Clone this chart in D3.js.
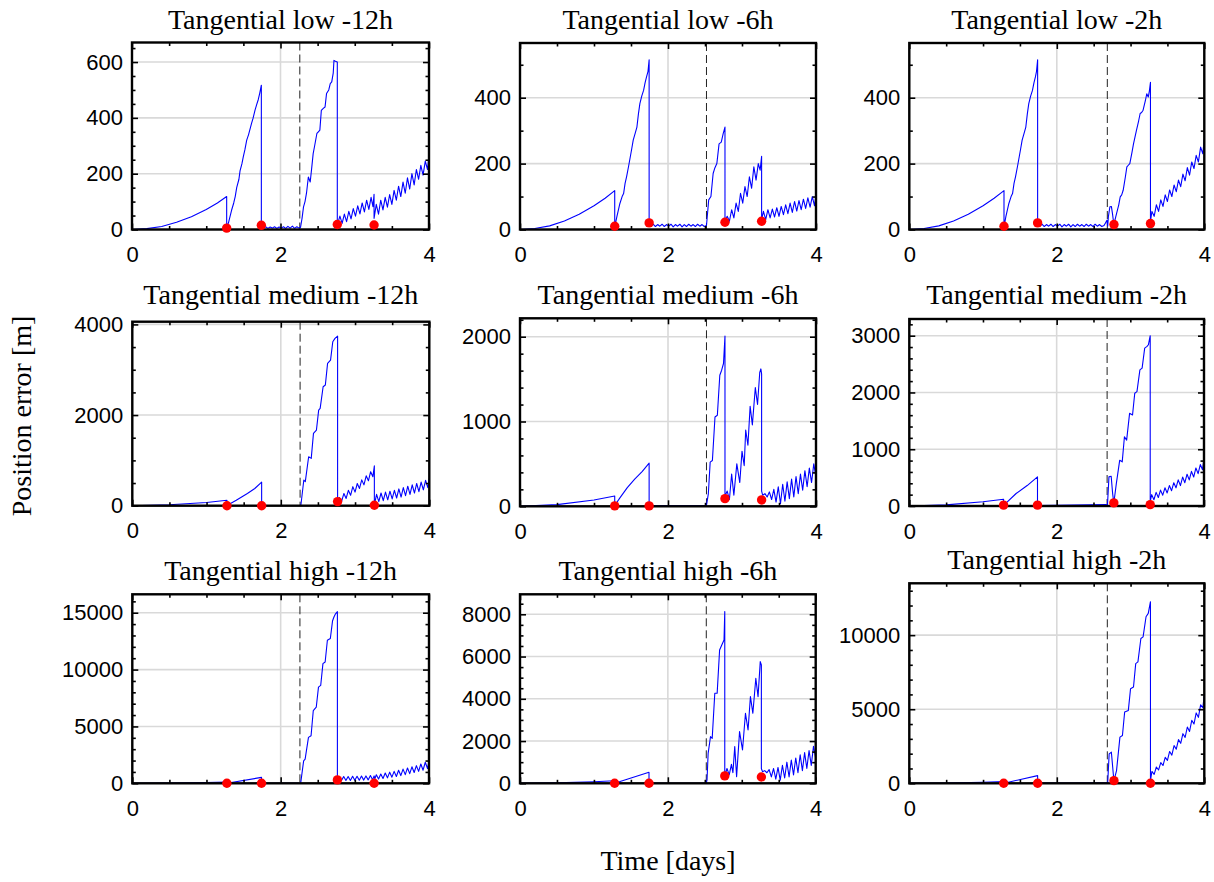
<!DOCTYPE html>
<html>
<head>
<meta charset="utf-8">
<script src="https://cdn.jsdelivr.net/npm/d3@7"></script>
<style>
  html, body { margin: 0; padding: 0; background: #fff; }
  svg { display: block; }
  .tick text { font-family: "Liberation Sans", Arial, sans-serif; font-size: 22px; fill: #000; }
  .tick line { stroke: #000; stroke-width: 1.6; }
  .ttl { font-family: "Liberation Serif", "Times New Roman", serif; font-size: 28px; fill: #000; }
</style>
</head>
<body>
<svg id="chart" width="1214" height="882"></svg>
<script>
// x axis (days)
var xMajor = [0, 2, 4];
var xMinor = [0.5, 1, 1.5, 2.5, 3, 3.5];

var titles = [
  "Tangential low -12h", "Tangential low -6h", "Tangential low -2h",
  "Tangential medium -12h", "Tangential medium -6h", "Tangential medium -2h",
  "Tangential high -12h", "Tangential high -6h", "Tangential high -2h"
];

// y ticks per panel
var yMax = [670, 566, 566, 4060, 2217, 3294, 16620, 8946, 13500];
var yMajor = [
  [0, 200, 400, 600], [0, 200, 400], [0, 200, 400],
  [0, 2000, 4000], [0, 1000, 2000], [0, 1000, 2000, 3000],
  [0, 5000, 10000, 15000], [0, 2000, 4000, 6000, 8000], [0, 5000, 10000]
];
var yMinorStep = [50, 100, 100, 500, 200, 200, 1000, 500, 1000];

// dashed marker (days)
var dashX = [2.26, 2.52, 2.685, 2.26, 2.52, 2.685, 2.26, 2.52, 2.685];

// position error series [day, m]
var tl12 = [[0,0],[0.2,3],[0.4,11],[0.6,26],[0.8,46],[1.0,72],[1.15,95],[1.275,118],
  [1.275,5],[1.30,25],[1.34,68],[1.37,95],[1.39,118],[1.41,150],[1.44,180],[1.455,210],[1.48,235],[1.50,262],[1.52,285],[1.545,320],[1.57,340],[1.61,380],[1.63,398],[1.657,428],[1.68,448],[1.70,465],[1.72,488],[1.742,517],
  [1.742,12],[1.77,5],[1.80,10],[1.83,4],[1.86,9],[1.89,5],[1.92,10],[1.95,4],[1.98,9],[2.01,5],[2.04,10],[2.07,4],[2.10,11],[2.13,5],[2.16,12],[2.19,4],[2.22,10],[2.25,5],[2.27,8],
  [2.29,40],[2.31,81],[2.33,100],[2.35,130],[2.375,188],[2.40,170],[2.42,220],[2.44,272],[2.46,300],[2.49,344],[2.51,350],[2.53,356],[2.55,427],[2.58,435],[2.60,439],[2.62,487],[2.65,500],[2.67,523],[2.69,529],[2.71,560],[2.72,606],[2.74,603],[2.765,600],
  [2.765,12],[2.78,30],[2.80,48],[2.83,22],[2.86,55],[2.89,28],[2.92,65],[2.95,38],[2.98,75],[3.01,48],[3.04,85],[3.07,56],[3.10,95],[3.13,63],[3.16,105],[3.19,72],[3.22,115],[3.245,82],[3.26,126],
  [3.26,40],[3.29,90],[3.32,55],[3.35,105],[3.38,70],[3.41,115],[3.44,80],[3.47,125],[3.50,90],[3.53,140],[3.56,105],[3.59,155],[3.62,118],[3.65,170],[3.68,130],[3.71,185],[3.74,145],[3.77,200],[3.80,160],[3.83,215],[3.86,180],[3.89,230],[3.92,195],[3.95,245],[3.98,215],[4.0,265]];

var tl6 = [[0,0],[0.2,3],[0.4,11],[0.6,26],[0.8,46],[1.0,72],[1.15,95],[1.28,118],
  [1.28,8],[1.31,40],[1.35,79],[1.38,100],[1.40,109],[1.42,140],[1.44,160],[1.47,195],[1.49,220],[1.51,245],[1.53,271],[1.56,295],[1.58,311],[1.60,350],[1.62,382],[1.645,405],[1.67,422],[1.69,445],[1.71,463],[1.73,480],[1.745,515],
  [1.745,18],[1.77,10],[1.80,16],[1.83,9],[1.86,15],[1.89,10],[1.92,16],[1.95,9],[1.98,15],[2.01,10],[2.04,16],[2.07,8],[2.10,15],[2.13,10],[2.16,16],[2.19,8],[2.22,15],[2.25,9],[2.28,16],[2.31,10],[2.34,15],[2.37,9],[2.40,16],[2.43,10],[2.46,15],[2.49,9],[2.52,12],
  [2.55,90],[2.58,100],[2.61,170],[2.63,185],[2.66,200],[2.69,260],[2.72,265],[2.745,290],[2.77,311],
  [2.77,25],[2.80,40],[2.83,25],[2.86,60],[2.89,35],[2.92,80],[2.95,55],[2.98,110],[3.01,80],[3.04,130],[3.07,100],[3.10,160],[3.13,125],[3.16,190],[3.19,150],[3.22,200],[3.245,180],[3.265,222],
  [3.265,30],[3.29,55],[3.32,30],[3.35,60],[3.38,35],[3.41,62],[3.44,38],[3.47,66],[3.50,40],[3.53,70],[3.56,45],[3.59,75],[3.62,48],[3.65,80],[3.68,52],[3.71,85],[3.74,56],[3.77,88],[3.80,60],[3.83,92],[3.86,64],[3.89,96],[3.92,68],[3.95,100],[3.98,72],[4.0,105]];

var tl2 = [[0,0],[0.2,3],[0.4,11],[0.6,26],[0.8,46],[1.0,72],[1.15,95],[1.284,118],
  [1.284,8],[1.31,40],[1.35,79],[1.38,100],[1.40,109],[1.42,140],[1.44,160],[1.47,195],[1.49,220],[1.51,245],[1.53,271],[1.56,295],[1.58,311],[1.60,350],[1.62,382],[1.645,405],[1.67,422],[1.69,445],[1.71,463],[1.725,480],[1.74,515],
  [1.74,18],[1.77,10],[1.80,16],[1.83,9],[1.86,15],[1.89,10],[1.92,16],[1.95,9],[1.98,15],[2.01,10],[2.04,16],[2.07,8],[2.10,15],[2.13,10],[2.16,16],[2.19,8],[2.22,15],[2.25,9],[2.28,16],[2.31,10],[2.34,15],[2.37,9],[2.40,16],[2.43,10],[2.46,15],[2.49,9],[2.52,16],[2.55,10],[2.58,15],[2.61,9],[2.64,12],[2.66,20],[2.68,28],[2.69,10],
  [2.70,40],[2.72,69],[2.74,70],[2.755,48],[2.775,13],[2.79,30],[2.81,48],[2.84,75],[2.86,99],[2.88,105],[2.90,119],[2.93,160],[2.95,190],[2.97,195],[2.99,200],[3.02,235],[3.04,260],[3.06,280],[3.08,301],[3.11,330],[3.13,352],[3.15,355],[3.17,362],[3.20,390],[3.22,412],[3.24,402],[3.255,420],[3.27,447],
  [3.27,25],[3.29,55],[3.32,40],[3.35,75],[3.38,55],[3.41,90],[3.44,70],[3.47,105],[3.50,85],[3.53,120],[3.56,100],[3.59,135],[3.62,115],[3.65,150],[3.68,130],[3.71,168],[3.74,148],[3.77,188],[3.80,165],[3.83,205],[3.86,185],[3.89,225],[3.92,205],[3.95,250],[3.98,230],[4.0,275]];

var tm12 = [[0,0],[0.5,20],[1.0,72],[1.275,120],
  [1.275,5],[1.40,120],[1.55,270],[1.65,380],[1.742,522],
  [1.742,5],[2.0,5],[2.27,5],
  [2.31,566],[2.33,530],[2.375,1080],[2.41,1044],[2.44,1596],[2.48,1670],[2.51,2110],[2.53,2147],[2.57,2625],[2.60,2662],[2.63,3140],[2.67,3213],[2.70,3618],[2.73,3691],[2.765,3743],
  [2.765,60],[2.79,180],[2.82,100],[2.85,270],[2.88,160],[2.91,340],[2.94,230],[2.97,420],[3.00,300],[3.03,490],[3.06,380],[3.09,570],[3.12,460],[3.15,660],[3.18,550],[3.21,750],[3.24,640],[3.26,880],
  [3.26,20],[3.29,250],[3.32,90],[3.35,280],[3.38,110],[3.41,300],[3.44,130],[3.47,320],[3.50,150],[3.53,340],[3.56,170],[3.59,370],[3.62,190],[3.65,400],[3.68,220],[3.71,430],[3.74,250],[3.77,460],[3.80,280],[3.83,490],[3.86,310],[3.89,520],[3.92,350],[3.95,560],[3.98,400],[4.0,600]];

var tm6 = [[0,0],[0.5,20],[1.0,75],[1.28,122],
  [1.28,10],[1.35,100],[1.45,220],[1.55,320],[1.65,410],[1.745,509],
  [1.745,10],[2.1,10],[2.52,10],
  [2.545,146],[2.57,521],[2.60,540],[2.635,1053],[2.667,1073],[2.70,1546],[2.725,1605],[2.75,1684],[2.77,2008],
  [2.77,120],[2.80,180],[2.83,80],[2.86,380],[2.89,130],[2.93,500],[2.97,280],[3.00,650],[3.03,480],[3.05,900],[3.08,720],[3.11,1180],[3.14,960],[3.18,1400],[3.21,1200],[3.24,1580],[3.255,1620],[3.265,1560],
  [3.265,180],[3.28,130],[3.31,150],[3.34,110],[3.37,170],[3.40,80],[3.43,200],[3.46,50],[3.49,230],[3.52,30],[3.55,260],[3.58,60],[3.61,290],[3.64,90],[3.67,320],[3.70,110],[3.73,350],[3.76,150],[3.79,380],[3.82,190],[3.85,420],[3.88,230],[3.91,450],[3.94,280],[3.97,500],[4.0,340]];

var tm2 = [[0,0],[0.5,20],[1.0,75],[1.28,120],
  [1.28,10],[1.45,220],[1.60,360],[1.74,513],
  [1.74,10],[2.2,15],[2.66,25],[2.69,20],
  [2.71,513],[2.74,524],[2.76,218],[2.776,53],[2.81,395],[2.856,807],[2.89,778],[2.92,1220],[2.95,1161],[2.99,1632],[3.03,1603],[3.06,1986],[3.09,2015],[3.13,2398],[3.16,2428],[3.195,2781],[3.227,2811],[3.245,2840],[3.27,3000],
  [3.27,80],[3.29,200],[3.32,110],[3.35,240],[3.38,150],[3.41,280],[3.44,190],[3.47,320],[3.50,230],[3.53,360],[3.56,270],[3.59,410],[3.62,320],[3.65,460],[3.68,360],[3.71,510],[3.74,410],[3.77,560],[3.80,460],[3.83,610],[3.86,510],[3.89,670],[3.92,570],[3.95,730],[3.98,640],[4.0,840]];

var th12 = [[0,0],[0.5,20],[1.0,72],[1.275,118],
  [1.275,5],[1.742,520],
  [1.742,10],[2.0,10],[2.27,10],
  [2.31,1975],[2.33,2122],[2.375,4038],[2.41,4185],[2.44,6396],[2.48,6690],[2.51,8459],[2.54,8606],[2.57,10522],[2.60,10670],[2.63,12585],[2.67,12732],[2.70,14300],[2.72,14648],[2.74,14900],[2.765,15090],
  [2.765,300],[2.79,550],[2.82,250],[2.85,600],[2.88,250],[2.91,600],[2.94,250],[2.97,620],[3.00,260],[3.03,620],[3.06,270],[3.09,640],[3.12,280],[3.15,650],[3.18,300],[3.21,680],[3.24,320],[3.26,650],
  [3.27,400],[3.29,750],[3.32,380],[3.35,820],[3.38,420],[3.41,900],[3.44,480],[3.47,980],[3.50,540],[3.53,1050],[3.56,600],[3.59,1150],[3.62,680],[3.65,1250],[3.68,760],[3.71,1350],[3.74,850],[3.77,1450],[3.80,950],[3.83,1550],[3.86,1050],[3.89,1700],[3.92,1150],[3.95,1850],[3.98,1300],[4.0,1950]];

var th6 = [[0,0],[0.5,20],[1.0,72],[1.28,118],
  [1.28,5],[1.745,520],
  [1.745,5],[2.1,5],[2.52,5],
  [2.53,158],[2.545,1420],[2.577,2209],[2.60,2130],[2.635,4260],[2.667,4260],[2.70,6311],[2.74,6627],[2.76,6784],[2.77,8126],
  [2.77,350],[2.80,700],[2.83,400],[2.86,900],[2.88,500],[2.905,1735],[2.93,315],[2.97,2445],[3.01,1578],[3.05,3313],[3.085,2524],[3.117,4102],[3.15,3313],[3.19,4970],[3.22,4102],[3.25,5759],[3.265,5600],
  [3.265,700],[3.28,550],[3.31,600],[3.34,500],[3.37,650],[3.40,300],[3.43,700],[3.46,200],[3.49,750],[3.52,150],[3.55,850],[3.58,250],[3.61,1000],[3.64,300],[3.67,1100],[3.70,400],[3.73,1200],[3.76,500],[3.79,1350],[3.82,600],[3.85,1450],[3.88,700],[3.91,1550],[3.94,850],[3.97,1750],[4.0,1200]];

var th2 = [[0,0],[0.5,20],[1.0,72],[1.28,118],
  [1.28,5],[1.74,520],
  [1.74,10],[2.2,20],[2.66,40],[2.69,30],
  [2.71,1986],[2.74,2100],[2.766,632],[2.775,180],[2.81,858],[2.856,3115],[2.89,3228],[2.92,4808],[2.97,4921],[3.00,6388],[3.04,6501],[3.07,8081],[3.10,8194],[3.14,9774],[3.17,9887],[3.21,11242],[3.24,11468],[3.27,12257],
  [3.27,200],[3.29,800],[3.32,600],[3.35,1100],[3.38,900],[3.41,1400],[3.44,1200],[3.47,1750],[3.50,1550],[3.53,2150],[3.56,1900],[3.59,2550],[3.62,2300],[3.65,2950],[3.68,2700],[3.71,3350],[3.74,3100],[3.77,3800],[3.80,3500],[3.83,4250],[3.86,4000],[3.89,4750],[3.92,4450],[3.95,5300],[3.98,5100],[4.0,5950]];

// red markers [day, m]
var tl12Dots = [[1.275,5],[1.742,15],[2.765,18],[3.26,16]];
var tl6Dots  = [[1.28,10],[1.745,20],[2.77,22],[3.265,25]];
var tl2Dots  = [[1.284,10],[1.74,20],[2.775,15],[3.27,18]];
var tm12Dots = [[1.275,0],[1.742,0],[2.765,90],[3.26,10]];
var tm6Dots  = [[1.28,5],[1.745,5],[2.77,90],[3.265,75]];
var tm2Dots  = [[1.28,15],[1.74,15],[2.776,55],[3.27,25]];
var th12Dots = [[1.275,0],[1.742,0],[2.765,300],[3.26,0]];
var th6Dots  = [[1.28,0],[1.745,0],[2.77,350],[3.265,300]];
var th2Dots  = [[1.28,0],[1.74,0],[2.775,180],[3.27,0]];

var series = [tl12, tl6, tl2, tm12, tm6, tm2, th12, th6, th2];
var dots = [tl12Dots, tl6Dots, tl2Dots, tm12Dots, tm6Dots, tm2Dots, th12Dots, th6Dots, th2Dots];

// panel boxes [left, top, right, bottom] and title baselines
var boxes = [
  [132, 42.5, 429, 229.5], [520, 43, 816, 229.5], [909.3, 43, 1204.3, 229.5],
  [132.3, 321.7, 429.3, 505.7], [520, 318.3, 816, 506.3], [909.3, 319, 1204, 506],
  [132.3, 594.3, 429, 783.3], [520, 594.3, 815.7, 783.3], [909.3, 583.3, 1204.3, 783.3]
];
var titleY = [28.5, 28.5, 28.5, 303.5, 303.5, 303.5, 580, 580, 569];

var svg = d3.select("#chart");

series.forEach(function (data, i) {
  var b = boxes[i], w = b[2] - b[0], h = b[3] - b[1];
  var x = d3.scaleLinear().domain([0, 4]).range([0, w]);
  var y = d3.scaleLinear().domain([0, yMax[i]]).range([h, 0]);
  var g = svg.append("g").attr("transform", "translate(" + b[0] + "," + b[1] + ")");

  var yMinor = d3.range(0, yMax[i], yMinorStep[i]).filter(function (v) {
    return yMajor[i].indexOf(v) < 0;
  });

  // grid
  g.append("g").selectAll("line").data(xMajor).enter().append("line")
    .attr("x1", x).attr("x2", x).attr("y1", 0).attr("y2", h)
    .attr("stroke", "#d9d9d9").attr("stroke-width", 1.6);
  g.append("g").selectAll("line").data(yMajor[i]).enter().append("line")
    .attr("x1", 0).attr("x2", w).attr("y1", y).attr("y2", y)
    .attr("stroke", "#d9d9d9").attr("stroke-width", 1.6);

  g.append("clipPath").attr("id", "clip" + i)
    .append("rect").attr("width", w).attr("height", h);

  // dashed marker
  g.append("line")
    .attr("x1", x(dashX[i])).attr("x2", x(dashX[i])).attr("y1", 0).attr("y2", h)
    .attr("stroke", "#222").attr("stroke-width", 1).attr("stroke-dasharray", "8,4");

  var line = d3.line().x(function (d) { return x(d[0]); }).y(function (d) { return y(d[1]); });
  g.append("path").datum(data)
    .attr("clip-path", "url(#clip" + i + ")")
    .attr("d", line)
    .attr("fill", "none").attr("stroke", "#0000ff").attr("stroke-width", 1.1)
    .attr("stroke-linejoin", "round");

  // axes, ticks inward on all sides
  function strip(sel) { sel.select(".domain").remove(); }
  g.append("g").attr("transform", "translate(0," + h + ")")
    .call(d3.axisBottom(x).tickValues(xMajor).tickSize(-6).tickPadding(17).tickFormat(d3.format("d"))).call(strip);
  g.append("g").attr("transform", "translate(0," + h + ")")
    .call(d3.axisBottom(x).tickValues(xMinor).tickSize(-3.5).tickFormat("")).call(strip);
  g.append("g")
    .call(d3.axisTop(x).tickValues(xMajor).tickSize(-6).tickFormat("")).call(strip);
  g.append("g")
    .call(d3.axisTop(x).tickValues(xMinor).tickSize(-3.5).tickFormat("")).call(strip);
  g.append("g")
    .call(d3.axisLeft(y).tickValues(yMajor[i]).tickSize(-6).tickPadding(9).tickFormat(d3.format("d"))).call(strip);
  g.append("g")
    .call(d3.axisLeft(y).tickValues(yMinor).tickSize(-3.5).tickFormat("")).call(strip);
  g.append("g").attr("transform", "translate(" + w + ",0)")
    .call(d3.axisRight(y).tickValues(yMajor[i]).tickSize(-6).tickFormat("")).call(strip);
  g.append("g").attr("transform", "translate(" + w + ",0)")
    .call(d3.axisRight(y).tickValues(yMinor).tickSize(-3.5).tickFormat("")).call(strip);

  g.append("rect").attr("width", w).attr("height", h)
    .attr("fill", "none").attr("stroke", "#000").attr("stroke-width", 2.4);

  g.append("g").selectAll("circle").data(dots[i]).enter().append("circle")
    .attr("cx", function (d) { return x(d[0]); })
    .attr("cy", function (d) { return y(d[1]); })
    .attr("r", 4.7).attr("fill", "#ff0000");

  svg.append("text").attr("class", "ttl")
    .attr("x", b[0] + w / 2).attr("y", titleY[i])
    .attr("text-anchor", "middle").text(titles[i]);
});

svg.append("text").attr("class", "ttl")
  .attr("transform", "translate(31,416) rotate(-90)")
  .attr("text-anchor", "middle").text("Position error [m]");
svg.append("text").attr("class", "ttl")
  .attr("x", 668).attr("y", 870)
  .attr("text-anchor", "middle").text("Time [days]");
</script>
</body>
</html>
